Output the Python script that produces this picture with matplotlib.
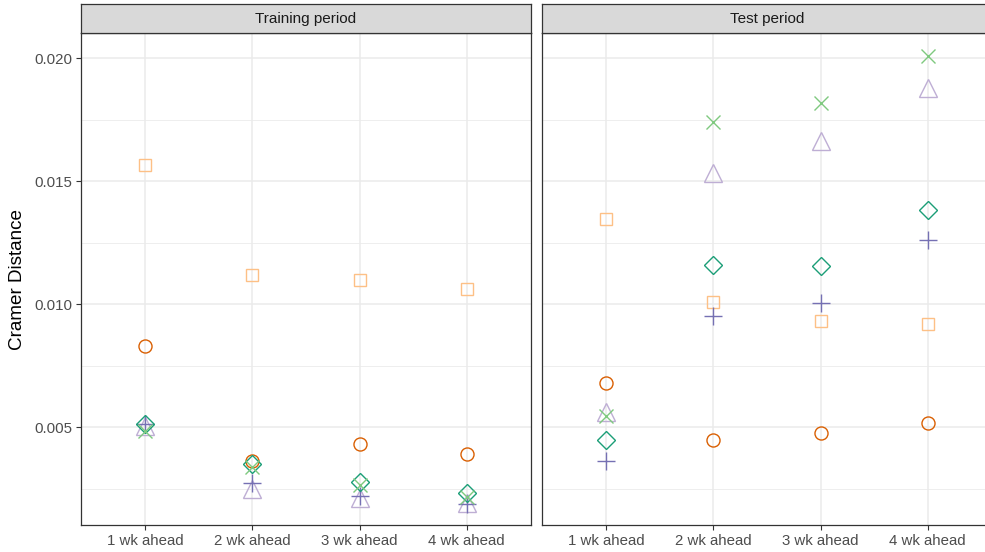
import matplotlib
matplotlib.use("Agg")
import matplotlib.pyplot as plt

plt.rcParams['font.family'] = ['Liberation Sans', 'DejaVu Sans']

horizons = ["1 wk ahead", "2 wk ahead", "3 wk ahead", "4 wk ahead"]
panels = ["Training period", "Test period"]

# Cramer distance per model (rows: horizons 1..4)
circle_train   = [0.00829, 0.00362, 0.00431, 0.00390]
square_train   = [0.01565, 0.01118, 0.01097, 0.01060]
diamond_train  = [0.00512, 0.00351, 0.00277, 0.00233]
cross_train    = [0.00485, 0.00336, 0.00264, 0.00216]
triangle_train = [0.00505, 0.00250, 0.00213, 0.00190]
plus_train     = [0.00512, 0.00271, 0.00220, 0.00188]

circle_test   = [0.00680, 0.00446, 0.00474, 0.00517]
square_test   = [0.01344, 0.01007, 0.00932, 0.00921]
diamond_test  = [0.00447, 0.01158, 0.01155, 0.01381]
cross_test    = [0.00546, 0.01741, 0.01818, 0.02009]
triangle_test = [0.00562, 0.01533, 0.01664, 0.01877]
plus_test     = [0.00362, 0.00950, 0.01003, 0.01260]

y_ticks = [0.005, 0.010, 0.015, 0.020]
y_tick_labels = ["0.005", "0.010", "0.015", "0.020"]

styles = {
    "circle":   dict(marker="o", color="#D95F02", ms=9.4),
    "square":   dict(marker="s", color="#FDC086", ms=9.2),
    "diamond":  dict(marker="D", color="#1B9E77", ms=9.2),
    "cross":    dict(marker="x", color="#7FC97F", ms=9.4),
    "triangle": dict(marker="^", color="#BEAED4", ms=12.5),
    "plus":     dict(marker="+", color="#7570B3", ms=13.0),
}

data = {
    "Training period": {"circle": circle_train, "square": square_train, "diamond": diamond_train,
                        "cross": cross_train, "triangle": triangle_train, "plus": plus_train},
    "Test period": {"circle": circle_test, "square": square_test, "diamond": diamond_test,
                    "cross": cross_test, "triangle": triangle_test, "plus": plus_test},
}

W, H = 985, 552
fig = plt.figure(figsize=(W / 100, H / 100), dpi=100)

panel_lefts = [81, 542]
pw = 450
top_px, bot_px = 33, 525
strip_top = 4

x = list(range(len(horizons)))
order = ["square", "circle", "triangle", "plus", "diamond", "cross"]

for pi, pname in enumerate(panels):
    l = panel_lefts[pi]
    ax = fig.add_axes([l / W, 1 - bot_px / H, pw / W, (bot_px - top_px) / H])
    ax.set_xlim(-0.6, len(horizons) - 0.4)
    ax.set_ylim(0.00102, 0.02102)
    ax.set_yticks(y_ticks)
    ax.set_yticks([0.0025, 0.0075, 0.0125, 0.0175], minor=True)
    ax.set_xticks(x)
    ax.set_xticklabels(horizons)
    ax.grid(True, which="major", color="#EBEBEB", linewidth=1.1)
    ax.grid(True, which="minor", axis="y", color="#EBEBEB", linewidth=0.6)
    ax.set_axisbelow(True)
    ax.tick_params(axis="both", which="major", length=3.5, width=0.8, color="#333333",
                   labelcolor="#4D4D4D", labelsize=10.8, pad=3)
    ax.tick_params(axis="y", which="minor", length=0)
    if pi == 0:
        ax.set_yticklabels(y_tick_labels)
    else:
        ax.set_yticklabels([])
        ax.tick_params(axis="y", which="major", length=0)
    for s in ax.spines.values():
        s.set_color("#333333")
        s.set_linewidth(0.9)
    for key in order:
        st = styles[key]
        ax.plot(x, data[pname][key], linestyle="none", marker=st["marker"],
                markersize=st["ms"], markerfacecolor="none",
                markeredgecolor=st["color"], markeredgewidth=1.0, clip_on=False)

    # strip
    sax = fig.add_axes([l / W, 1 - top_px / H, pw / W, (top_px - strip_top) / H])
    sax.set_xticks([]); sax.set_yticks([])
    sax.set_facecolor("#D9D9D9")
    for s in sax.spines.values():
        s.set_color("#333333")
        s.set_linewidth(0.9)
    sax.text(0.5, 0.5, pname, ha="center", va="center", fontsize=11, color="#1A1A1A",
             transform=sax.transAxes)

fig.text(18 / W, 1 - 279 / H, "Cramer Distance", rotation=90, ha="center", va="center",
         fontsize=13.6, color="black")

fig.savefig("out.png", dpi=100)
